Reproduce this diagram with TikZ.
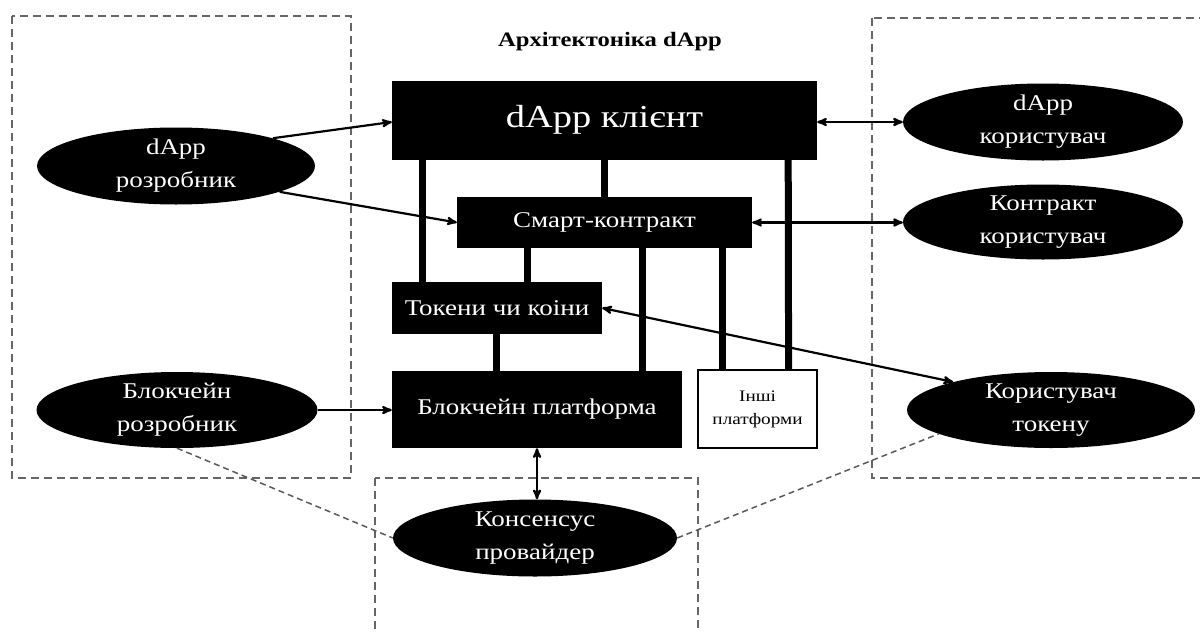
\documentclass[tikz,border=0pt]{standalone}
\usepackage{fontspec}
\setmainfont{Liberation Serif}[FakeStretch=1.2]
\usepackage{tikz}
\usetikzlibrary{shapes,arrows,calc,positioning,shapes.geometric}
\tikzset{
>=stealth',
  blok/.style={
    rectangle,
    fill=black,
    text=white,
    inner sep=0pt,
    align=center,
    font=\fontsize{22.5}{26}\selectfont},
  aktor/.style={
    ellipse,
    fill=black,
    text=white,
    inner sep=0pt,
    align=center,
    minimum width=280pt,
    minimum height=77pt,
    font=\fontsize{22.5}{33}\selectfont},
  zona/.style={draw=black!60, line width=1.4pt, dash pattern=on 8pt off 5pt},
  bar/.style={line width=7pt, draw=black},
  link/.style={draw, line width=2.2pt},
}

\begin{document}
\begin{tikzpicture}[
    x=1pt, y=-1pt,
    both/.style={link, <->},
    one/.style={link, ->},
    dotted link/.style={draw=black!65, line width=1.5pt, dash pattern=on 6pt off 4pt},
    ]
    \useasboundingbox (0,0) rectangle (1200,632);

    % dashed zones
    \draw[zona] (12,16) rectangle (351,478);
    \draw[zona] (872,18) rectangle (1210,478);
    \draw[zona] (375,478) rectangle (698,645);

    \node (title) at (610,42) {\fontsize{20.5}{24}\selectfont\bfseries Архітектоніка dApp};

    \node[blok, minimum width=425pt, minimum height=79pt,
          font=\fontsize{32}{36}\selectfont] (client) at (604.5,120) {dApp клієнт};
    \node[blok, minimum width=295pt, minimum height=51pt] (smart) at (604.5,222.5) {Смарт-контракт};
    \node[blok, minimum width=210pt, minimum height=52pt] (tokens) at (497,308) {Токени чи коіни};
    \node[blok, minimum width=290pt, minimum height=77pt] (bcplat) at (537,409.5) {Блокчейн платформа};
    \node[blok, fill=white, text=black, draw=black, line width=1.2pt,
          minimum width=119pt, minimum height=78pt,
          font=\fontsize{16}{23}\selectfont] (other) at (757.5,409) {Інші\\платформи};

    \node[aktor, minimum width=278pt] (dappdev) at (176,166) {dApp\\розробник};
    \node[aktor, minimum width=281pt, minimum height=76pt] (bcdev) at (177,410) {Блокчейн\\розробник};
    \node[aktor] (dappuser) at (1043,122) {dApp\\користувач};
    \node[aktor, minimum height=75pt] (contuser) at (1043,222) {Контракт\\користувач};
    \node[aktor, minimum width=288pt, minimum height=76pt] (tokuser) at (1051,410) {Користувач\\токену};
    \node[aktor, minimum width=284pt] (consensus) at (535,538) {Консенсус\\провайдер};

    % bars
    \draw[bar] ([xshift=31pt]client.south west) -- ([xshift=31pt]tokens.north west);
    \draw[bar] (client.south) -- (smart.north);
    \draw[bar] ([xshift=-29pt]client.south east) -- ([xshift=-29pt]other.north east);
    \draw[bar] ([xshift=71pt]smart.south west) -- ([xshift=71pt]smart.south west |- tokens.north);
    \draw[bar] ([xshift=186pt]smart.south west) -- ([xshift=186pt]smart.south west |- bcplat.north);
    \draw[bar] ([xshift=266pt]smart.south west) -- ([xshift=266pt]smart.south west |- other.north);
    \draw[bar] ([xshift=105pt]tokens.south west) -- ([xshift=105pt]tokens.south west |- bcplat.north);

    % arrows
    \draw[one] (dappdev.16) -- ([yshift=-2pt]client.west);
    \draw[one] (dappdev.-14) -- (smart.west);
    \draw[one] (bcdev.east) -- (bcdev.east -| bcplat.west);
    \draw[both] (dappuser.west -| client.east) -- (dappuser.west);
    \draw[both] (smart.east) -- (smart.east -| contuser.west);
    \draw[both] (tokens.east) -- (tokuser.164);
    \draw[both] (bcplat.south) -- (bcplat.south |- consensus.north);

    \draw[dotted link] (bcdev.south) -- (consensus.west);
    \draw[dotted link] (consensus.east) -- (tokuser.192);
\end{tikzpicture}
\end{document}
